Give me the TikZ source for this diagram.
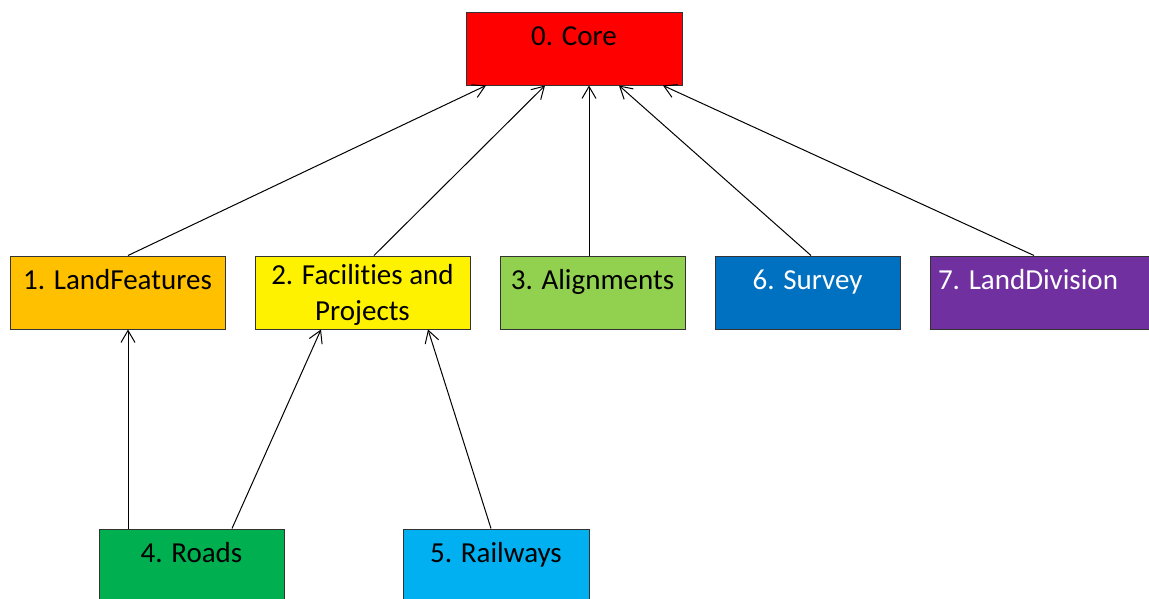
\documentclass[tikz,border=0pt]{standalone}
\usepackage{fontspec}
\setmainfont{Carlito}[Ligatures=NoCommon]
\usetikzlibrary{arrows.meta}

\begin{document}
\begin{tikzpicture}[x=1pt, y=-1pt,
        box/.style={rectangle,draw=black!80,line width=1pt,inner xsep=2pt,inner ysep=0pt,
      minimum height=73pt,text height=33pt,text depth=40pt,
      font=\fontsize{29}{36}\selectfont,text=black},
        uplink/.style={line width=1pt,black,-{Straight Barb[length=12pt,width=14pt]}}]

	\path [use as bounding box,clip] (0,0) rectangle (1149,598);

	\node [box,fill=red,minimum width=216pt] (core) at (574,48.5) {0. Core};
        \node [box,fill={rgb,255:red,255;green,192;blue,0},minimum width=215pt] (lf) at (117.5,292.5) {1. LandFeatures};
        \node [box,fill=yellow,minimum width=215pt,align=center,text height=64pt,text depth=9pt] (fp) at (362.5,292.5) {2. Facilities and\\Projects};
        \node [box,fill={rgb,255:red,146;green,208;blue,80},minimum width=185pt] (al) at (592.5,292.5) {3. Alignments};
        \node [box,fill={rgb,255:red,0;green,112;blue,192},minimum width=185pt,text=white] (sv) at (807.5,292.5) {6. Survey};
        \node [box,fill={rgb,255:red,112;green,48;blue,160},inner xsep=8pt,text width=209pt,align=flush left,text=white] (ld) at (1042.5,292.5) {7. LandDivision};
        \node [box,fill={rgb,255:red,0;green,176;blue,80},minimum width=185pt] (rd) at (191.5,565.5) {4. Roads};
        \node [box,fill={rgb,255:red,0;green,176;blue,240},minimum width=186pt] (rw) at (496,565.5) {5. Railways};

        \path [uplink] ([xshift=10.5pt]lf.north) edge ([xshift=-88pt]core.south);
        \path [uplink] ([xshift=11.5pt]fp.north) edge ([xshift=-29pt]core.south);
        \path [uplink] ([xshift=-3.5pt]al.north) edge ([xshift=15pt]core.south);
        \path [uplink] ([xshift=3.5pt]sv.north) edge ([xshift=45pt]core.south);
        \path [uplink] ([xshift=-8.5pt]ld.north) edge ([xshift=89pt]core.south);
        \path [uplink] ([xshift=-63.5pt]rd.north) edge ([xshift=10.5pt]lf.south);
        \path [uplink] ([xshift=40.5pt]rd.north) edge ([xshift=-41.5pt]fp.south);
        \path [uplink] ([xshift=-5pt]rw.north) edge ([xshift=65.5pt]fp.south);
\end{tikzpicture}
\end{document}
